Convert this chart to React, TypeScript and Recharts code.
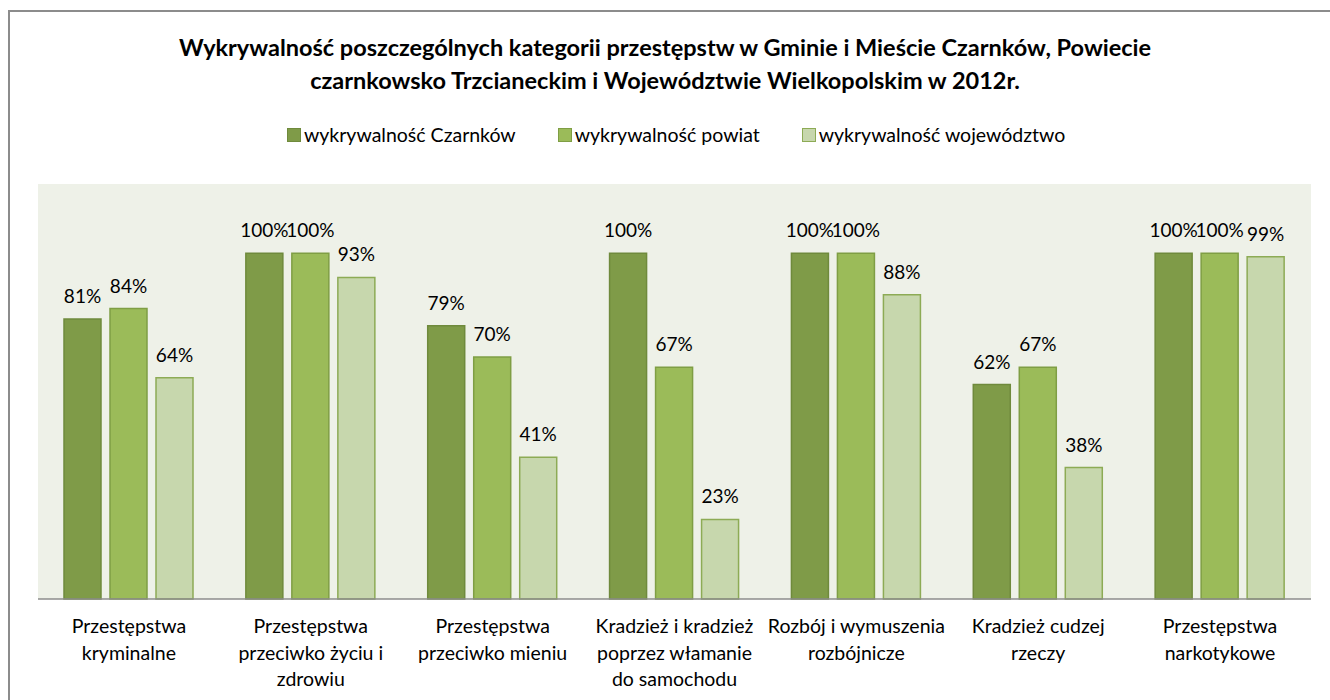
import React from "react"
import { BarChart, Bar, XAxis, YAxis, CartesianGrid, LabelList } from "recharts"

// ── Data ─────────────────────────────────────────────────────────────────────
const CATEGORIES = [
  "Przestępstwa\nkryminalne",
  "Przestępstwa\nprzeciwko życiu i\nzdrowiu",
  "Przestępstwa\nprzeciwko mieniu",
  "Kradzież i kradzież\npoprzez włamanie\ndo samochodu",
  "Rozbój i wymuszenia\nrozbójnicze",
  "Kradzież cudzej\nrzeczy",
  "Przestępstwa\nnarkotykowe",
]
const CZARNKOW = [0.81, 1.0, 0.79, 1.0, 1.0, 0.62, 1.0]
const POWIAT = [0.84, 1.0, 0.7, 0.67, 1.0, 0.67, 1.0]
const WOJEWODZTWO = [0.64, 0.93, 0.41, 0.23, 0.88, 0.38, 0.99]

const SERIES = [
  { key: "czarnkow", name: "wykrywalność Czarnków", fill: "#7f9b48", stroke: "#6f8a3c" },
  { key: "powiat", name: "wykrywalność powiat", fill: "#9bbb59", stroke: "#7f9e44" },
  { key: "woj", name: "wykrywalność województwo", fill: "#c7d7ad", stroke: "#8dab55" },
]

const TITLE = [
  "Wykrywalność poszczególnych kategorii przestępstw w Gminie i Mieście Czarnków, Powiecie",
  "czarnkowsko Trzcianeckim i Województwie Wielkopolskim w 2012r.",
]

const data = CATEGORIES.map((c, i) => ({
  category: c,
  czarnkow: CZARNKOW[i],
  powiat: POWIAT[i],
  woj: WOJEWODZTWO[i],
}))

const FONT = "Lato, 'Open Sans', sans-serif"
const pct = (v: number) => `${Math.round(v * 100)}%`

function CategoryTick({ x, y, payload }: any) {
  const lines = String(payload.value).split("\n")
  return (
    <text x={x} y={y} textAnchor="middle" fontSize={19.5} fill="#000" fontFamily={FONT}>
      {lines.map((l, i) => (
        <tspan key={i} x={x} dy={i === 0 ? 26 : 26.5}>
          {l}
        </tspan>
      ))}
    </text>
  )
}

export default function App() {
  return (
    <div
      style={{
        position: "absolute",
        left: 0,
        top: 0,
        width: 1330,
        height: 700,
        overflow: "hidden",
        background: "#fff",
        fontFamily: FONT,
      }}
    >
      {/* chart frame */}
      <div
        style={{
          position: "absolute",
          left: 8,
          top: 10,
          width: 1400,
          height: 800,
          border: "2px solid #8c8c8c",
        }}
      />
      {/* title */}
      <div
        style={{
          position: "absolute",
          left: 0,
          top: 31,
          width: 1330,
          textAlign: "center",
          fontWeight: 700,
          fontSize: 23.5,
          lineHeight: "33px",
          color: "#000",
        }}
      >
        {TITLE.map((t) => (
          <div key={t}>{t}</div>
        ))}
      </div>
      {/* legend */}
      <div
        style={{
          position: "absolute",
          left: 287,
          top: 124,
          display: "flex",
          gap: 42,
          fontSize: 19.5,
          lineHeight: "22px",
          color: "#000",
          whiteSpace: "nowrap",
        }}
      >
        {SERIES.map((s) => (
          <div key={s.key} style={{ display: "flex", alignItems: "center" }}>
            <span
              style={{
                display: "inline-block",
                width: 12,
                height: 12,
                background: s.fill,
                border: `1px solid ${s.stroke}`,
                marginRight: 3,
              }}
            />
            {s.name}
          </div>
        ))}
      </div>

      <div style={{ position: "absolute", left: 0, top: 0 }}>
        <BarChart
          width={1330}
          height={700}
          data={data}
          margin={{ top: 184, right: 19, left: 38, bottom: 11 }}
          barSize={37}
          barGap={9}
        >
          <CartesianGrid fill="#eef1e8" horizontal={false} vertical={false} stroke="none" />
          <XAxis
            dataKey="category"
            height={90}
            interval={0}
            tickLine={false}
            axisLine={{ stroke: "#8c8c8c", strokeWidth: 1.5 }}
            tick={<CategoryTick />}
          />
          <YAxis hide domain={[0, 1.2]} />
          {SERIES.map((s) => (
            <Bar
              key={s.key}
              dataKey={s.key}
              name={s.name}
              fill={s.fill}
              stroke={s.stroke}
              strokeWidth={1.5}
              isAnimationActive={false}
            >
              <LabelList
                dataKey={s.key}
                position="top"
                offset={16}
                formatter={(v: any) => pct(Number(v))}
                style={{ fontSize: 19, fill: "#000", fontFamily: FONT }}
              />
            </Bar>
          ))}
        </BarChart>
      </div>
    </div>
  )
}
